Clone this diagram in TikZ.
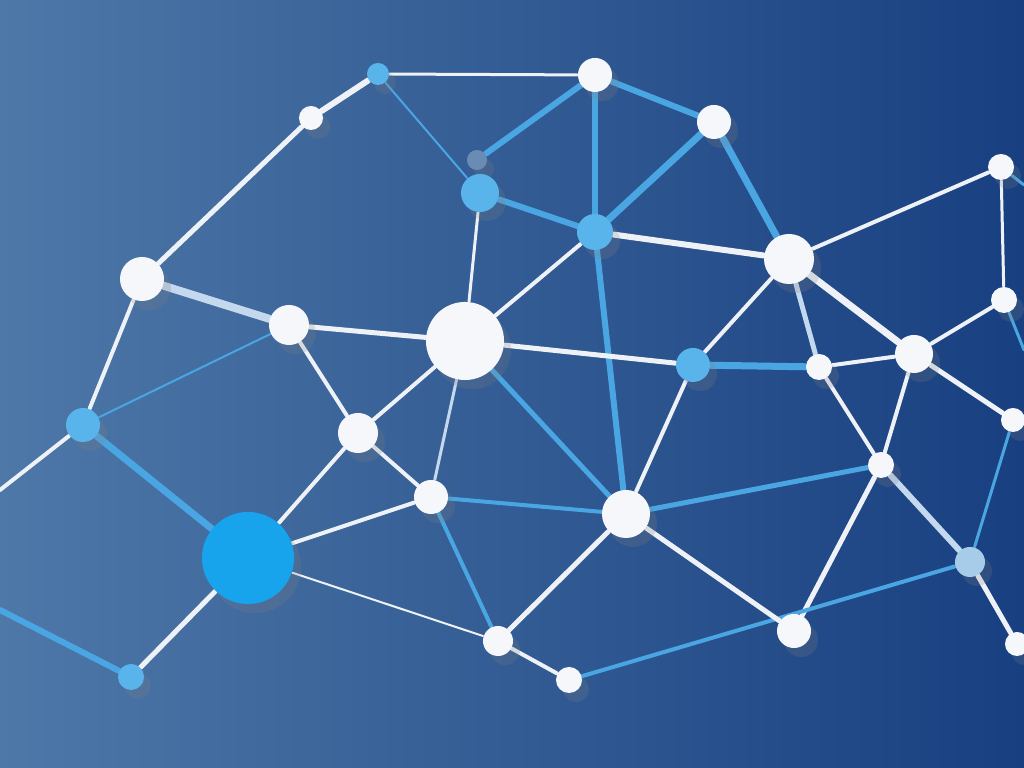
\documentclass[tikz,border=0pt]{standalone}
\usepackage{tikz}
\usetikzlibrary{shadows}
\definecolor{bgleft}{HTML}{4E78A8}
\definecolor{bgmid}{HTML}{2D5C98}
\definecolor{bgright}{HTML}{183F80}
\definecolor{nodewhite}{HTML}{F5F7FA}
\definecolor{nodeblue}{HTML}{58B4EA}
\definecolor{bigblue}{HTML}{18A4EC}
\definecolor{dimblue}{HTML}{6A8CB4}
\definecolor{paleblue}{HTML}{A6CCEA}
\definecolor{linkblue}{HTML}{4AA6E2}
\definecolor{linkwhite}{HTML}{EEF2F7}
\definecolor{linkpale}{HTML}{C4D8EE}
\pgfdeclarelayer{back}
\pgfdeclarelayer{links}
\pgfsetlayers{back,links,main}

\tikzset{
  dot/.style={circle,inner sep=0pt,minimum size=#1*0.02cm,
    drop shadow={shadow xshift=0.07cm,shadow yshift=-0.09cm,opacity=0.22}},
  wdot/.style={dot=#1,fill=nodewhite},
  bdot/.style={dot=#1,fill=nodeblue},
  wlink/.style={linkwhite,line width=#1*0.01cm,line cap=round},
  plink/.style={linkpale,line width=#1*0.01cm,line cap=round},
  blink/.style={linkblue,line width=#1*0.01cm,line cap=round},
}

\begin{document}
\begin{tikzpicture}[x=0.01cm,y=-0.01cm]
  \begin{pgfonlayer}{back}
    \shade[left color=bgleft,middle color=bgmid,right color=bgright] (0,0) rectangle (1024,768);
  \end{pgfonlayer}
  \useasboundingbox (0,0) rectangle (1024,768);

  % nodes
  \node[bdot=11] (a1) at (378,74) {};
  \node[wdot=12] (a2) at (311,118) {};
  \node[wdot=17] (b) at (595,75) {};
  \node[wdot=17] (c) at (714,122) {};
  \node[dot=10,fill=dimblue] (d) at (477,160) {};
  \node[bdot=19] (e) at (480,193) {};
  \node[bdot=18] (f) at (595,232) {};
  \node[wdot=25] (g) at (789,259) {};
  \node[wdot=13] (h) at (1001,167) {};
  \node[wdot=13] (i) at (1004,300) {};
  \node[wdot=22] (j) at (142,279) {};
  \node[wdot=20] (k) at (289,325) {};
  \node[wdot=39] (l) at (465,341) {};
  \node[bdot=17] (m) at (693,365) {};
  \node[wdot=13] (n) at (819,367) {};
  \node[wdot=19] (o) at (914,354) {};
  \node[wdot=12] (p) at (1013,420) {};
  \node[bdot=17] (q) at (83,425) {};
  \node[wdot=20] (r) at (358,433) {};
  \node[wdot=17] (s) at (431,497) {};
  \node[wdot=13] (t) at (881,465) {};
  \node[wdot=24] (u) at (626,514) {};
  \node[dot=46,fill=bigblue] (v) at (248,558) {};
  \node[dot=15,fill=paleblue] (w) at (970,562) {};
  \node[wdot=15] (x) at (498,641) {};
  \node[wdot=13] (y) at (569,680) {};
  \node[wdot=17] (z) at (794,631) {};
  \node[bdot=13] (aa) at (131,677) {};
  \node[wdot=12] (ab) at (1017,644) {};
  \coordinate (outh) at (1024,185);
  \coordinate (outi) at (1024,350);
  \coordinate (outq) at (0,490);
  \coordinate (outaa) at (0,610);

  % links
  \begin{pgfonlayer}{links}
    \draw[wlink=6] (a2) -- (a1);
    \draw[wlink=3] (a1) -- (b);
    \draw[blink=2] (a1) -- (e);
    \draw[wlink=5] (a2) -- (j);
    \draw[blink=6] (b) -- (d);
    \draw[blink=6] (b) -- (f);
    \draw[blink=6] (b) -- (c);
    \draw[blink=6] (e) -- (f);
    \draw[blink=7] (c) -- (f);
    \draw[blink=7] (c) -- (g);
    \draw[wlink=6] (f) -- (g);
    \draw[wlink=4] (f) -- (l);
    \draw[blink=6] (f) -- (u);
    \draw[wlink=3] (e) -- (l);
    \draw[wlink=4] (g) -- (h);
    \draw[wlink=4] (g) -- (m);
    \draw[plink=5] (g) -- (n);
    \draw[wlink=7] (g) -- (o);
    \draw[wlink=3] (h) -- (i);
    \draw[blink=3] (h) -- (outh);
    \draw[wlink=4] (i) -- (o);
    \draw[blink=3] (i) -- (outi);
    \draw[plink=8] (j) -- (k);
    \draw[wlink=4] (j) -- (q);
    \draw[wlink=5] (k) -- (l);
    \draw[wlink=4] (k) -- (r);
    \draw[blink=2] (k) -- (q);
    \draw[wlink=5] (l) -- (m);
    \draw[wlink=4] (l) -- (r);
    \draw[plink=3] (l) -- (s);
    \draw[blink=5] (l) -- (u);
    \draw[blink=7] (m) -- (n);
    \draw[wlink=4] (m) -- (u);
    \draw[wlink=4] (n) -- (o);
    \draw[wlink=4] (n) -- (t);
    \draw[wlink=4] (o) -- (t);
    \draw[wlink=5] (o) -- (p);
    \draw[blink=5] (u) -- (t);
    \draw[wlink=5] (t) -- (z);
    \draw[plink=6] (t) -- (w);
    \draw[blink=3] (p) -- (w);
    \draw[wlink=5] (w) -- (ab);
    \draw[blink=4] (w) -- (y);
    \draw[wlink=5] (u) -- (z);
    \draw[wlink=5] (u) -- (x);
    \draw[blink=4] (s) -- (x);
    \draw[wlink=4] (s) -- (v);
    \draw[wlink=4] (r) -- (s);
    \draw[blink=4] (s) -- (u);
    \draw[wlink=4] (r) -- (v);
    \draw[blink=7] (q) -- (v);
    \draw[wlink=4] (q) -- (outq);
    \draw[wlink=5] (v) -- (aa);
    \draw[wlink=2] (v) -- (x);
    \draw[blink=6] (aa) -- (outaa);
    \draw[wlink=4] (x) -- (y);
  \end{pgfonlayer}
\end{tikzpicture}
\end{document}
